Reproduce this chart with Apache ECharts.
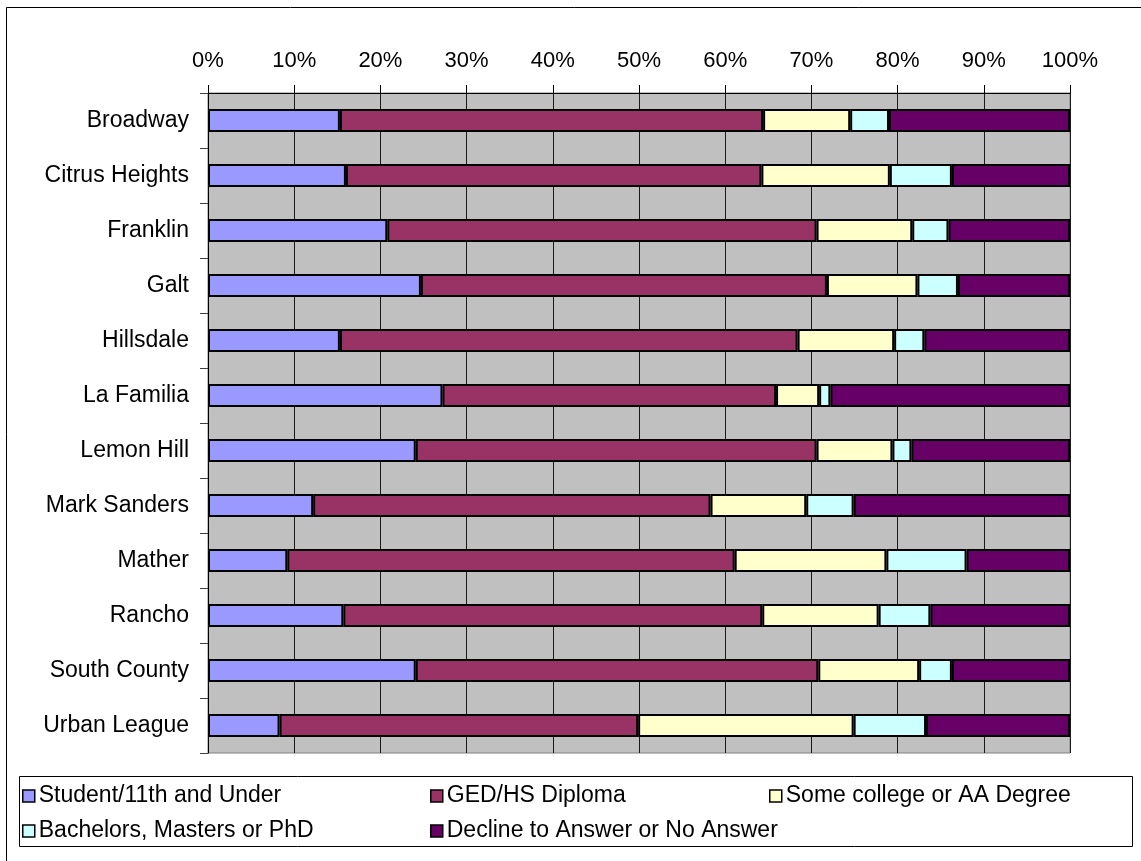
<!DOCTYPE html>
<html>
<head>
<meta charset="utf-8">
<title>Education level by site</title>
<script src="https://cdn.jsdelivr.net/npm/echarts@6/dist/echarts.min.js"></script>
<style>
  html, body { margin: 0; padding: 0; background: #ffffff; }
  #chart { width: 1141px; height: 861px; }
</style>
</head>
<body>
<div id="chart"></div>
<script>
// Sites, top to bottom
const sites = [
  'Broadway', 'Citrus Heights', 'Franklin', 'Galt', 'Hillsdale', 'La Familia',
  'Lemon Hill', 'Mark Sanders', 'Mather', 'Rancho', 'South County', 'Urban League'
];

// Share of participants (%) by education level, one value per site
const studentUnder11 = [15.3, 16.0, 20.8, 24.7, 15.3, 27.2, 24.1, 12.2, 9.2, 15.7, 24.1, 8.3];
const gedHsDiploma   = [49.1, 48.2, 49.8, 47.1, 53.1, 38.7, 46.5, 46.1, 51.9, 48.6, 46.7, 41.6];
const someCollegeAA  = [10.1, 14.9, 11.1, 10.5, 11.2, 5.0, 8.8, 11.1, 17.6, 13.5, 11.7, 25.0];
const bachelorsPlus  = [4.5, 7.2, 4.2, 4.7, 3.5, 1.3, 2.2, 5.5, 9.3, 6.0, 3.8, 8.4];
const declineNoAns   = [21.0, 13.7, 14.1, 13.0, 16.9, 27.8, 18.4, 25.1, 12.0, 16.2, 13.7, 16.7];

const seriesNames = [
  'Student/11th and Under', 'GED/HS Diploma', 'Some college or AA Degree',
  'Bachelors, Masters or PhD', 'Decline to Answer or No Answer'
];
const seriesValues = [studentUnder11, gedHsDiploma, someCollegeAA, bachelorsPlus, declineNoAns];
const seriesColors = ['#9999FF', '#993366', '#FFFFCC', '#CCFFFF', '#660066'];

// Percent axis ticks
const pctMin = 0, pctMax = 100, pctStep = 10;

const FONT = "'Liberation Sans', Arial, sans-serif";

const chart = echarts.init(document.getElementById('chart'), null, { renderer: 'canvas' });

// Legend entries laid out in three columns, two rows
const legendSlots = [
  { name: seriesNames[0], left: 22, top: 784 },
  { name: seriesNames[1], left: 430, top: 784 },
  { name: seriesNames[2], left: 769, top: 784 },
  { name: seriesNames[3], left: 22, top: 819 },
  { name: seriesNames[4], left: 430, top: 819 }
];

const legends = legendSlots.map(s => ({
  data: [s.name],
  left: s.left,
  top: s.top,
  padding: 0,
  icon: 'rect',
  itemWidth: 12,
  itemHeight: 12,
  selectedMode: false,
  itemStyle: { borderColor: '#000', borderWidth: 1.5 },
  textStyle: { fontFamily: FONT, fontSize: 23, color: '#000', lineHeight: 24, padding: [0, 0, 0, -1] }
}));

const option = {
  backgroundColor: '#ffffff',
  animation: false,
  textStyle: { fontFamily: FONT },
  grid: {
    left: 208, right: 71, top: 93, bottom: 108,
    show: true,
    backgroundColor: '#C0C0C0',
    borderColor: '#808080',
    borderWidth: 1
  },
  legend: legends,
  graphic: [
    // outer chart frame
    { type: 'rect', shape: { x: 6.5, y: 7.5, width: 1400, height: 1000 },
      style: { fill: 'none', stroke: '#000', lineWidth: 1 }, silent: true, z: 0 },
    // legend box
    { type: 'rect', shape: { x: 19.5, y: 776.5, width: 1113, height: 70 },
      style: { fill: 'none', stroke: '#000', lineWidth: 1 }, silent: true, z: 0 }
  ],
  xAxis: {
    type: 'value',
    position: 'top',
    min: pctMin, max: pctMax, interval: pctStep,
    axisLine: { show: true, lineStyle: { color: '#000', width: 1 } },
    axisTick: { show: true, length: 8, inside: false, lineStyle: { color: '#000' } },
    axisLabel: { formatter: '{value}%', fontFamily: FONT, fontSize: 22, color: '#000', margin: 21 },
    splitLine: { show: true, lineStyle: { color: '#1a1a1a', width: 1 } }
  },
  yAxis: {
    type: 'category',
    data: sites,
    inverse: true,
    boundaryGap: true,
    axisLine: { show: true, lineStyle: { color: '#000', width: 1 } },
    axisTick: { show: true, length: 8, inside: false, interval: 0, lineStyle: { color: '#404040' } },
    axisLabel: { fontFamily: FONT, fontSize: 23, color: '#000', margin: 19, interval: 0 },
    splitLine: { show: false }
  },
  series: seriesNames.map((name, i) => ({
    name,
    type: 'bar',
    stack: 'total',
    data: seriesValues[i],
    barCategoryGap: '58%',
    itemStyle: { color: seriesColors[i], borderColor: '#000', borderWidth: 2 },
    emphasis: { disabled: true }
  }))
};

chart.setOption(option);
</script>
</body>
</html>
